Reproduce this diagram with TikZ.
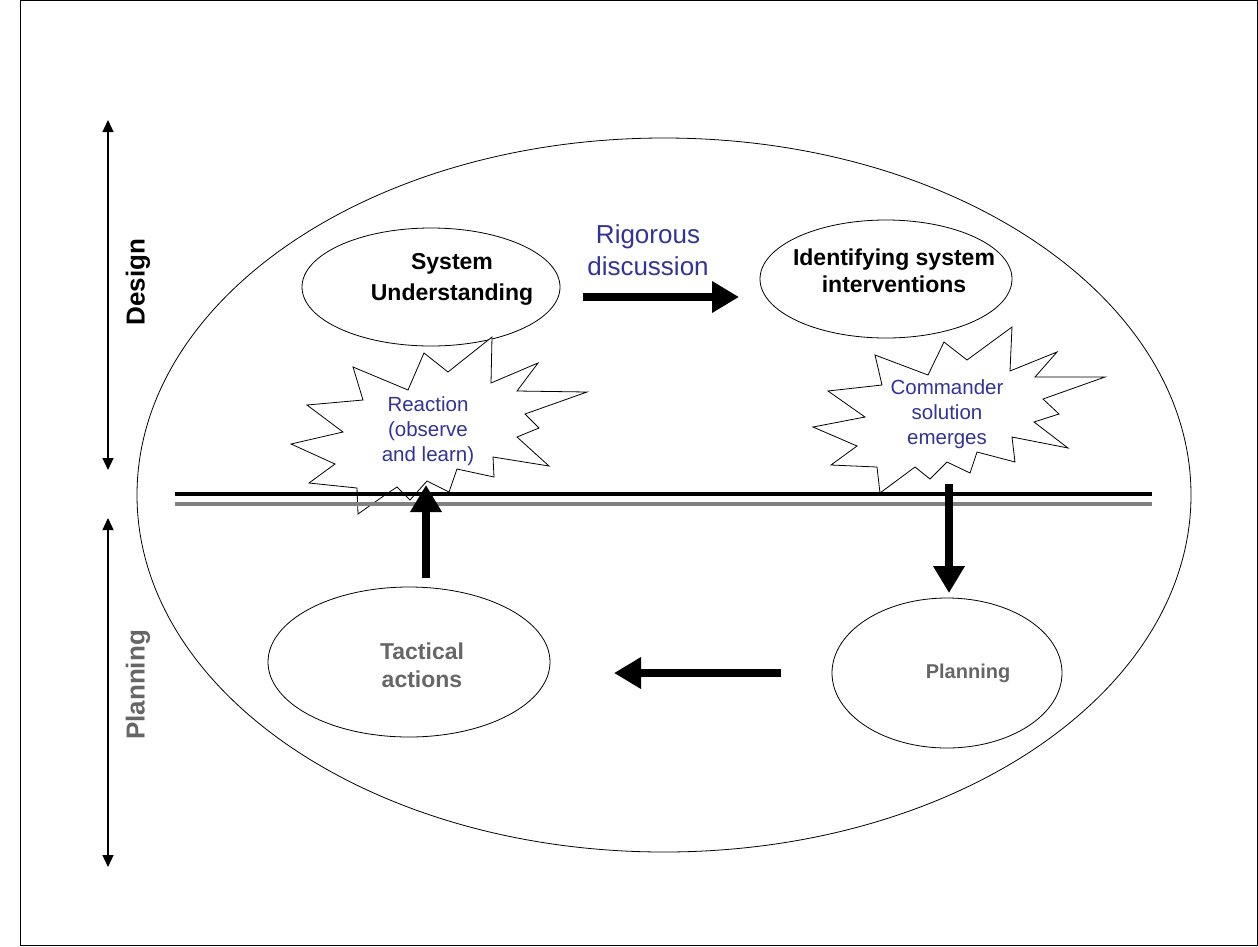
\documentclass[tikz,border=0pt]{standalone}
\usepackage{fontspec}
\setmainfont{Liberation Sans}
\usetikzlibrary{shapes.geometric,arrows.meta}

\definecolor{noteblue}{RGB}{51,51,153}
\definecolor{plangray}{RGB}{102,102,102}
\definecolor{rulegray}{RGB}{128,128,128}

\begin{document}
\begin{tikzpicture}[x=1pt,y=-1pt,
  bubble/.style={draw,ellipse,line width=0.8pt,inner sep=0pt},
  boldtext/.style={font=\bfseries\fontsize{23}{29}\selectfont,align=center,inner sep=0pt},
  notetext/.style={font=\fontsize{20.5}{25}\selectfont,text=noteblue,align=center,inner sep=0pt},
  sidetext/.style={font=\bfseries\fontsize{26}{30}\selectfont,rotate=90,inner sep=0pt},
  burst/.style={draw,fill=white,line width=0.8pt,line join=miter},
  bigarrow/.style={line width=8pt,-{Triangle[length=27pt,width=30pt]}},
  spanarrow/.style={line width=1.2pt,{Triangle[length=12pt,width=11pt]}-{Triangle[length=12pt,width=11pt]}},
]
% page frame
\useasboundingbox (0,0) rectangle (1258,946);
\draw[line width=0.8pt] (20,0.5) rectangle (1257.5,945.5);

% outer scope ellipse
\node[bubble,minimum width=1054pt,minimum height=714pt] (scope) at (664,495) {};

% process ellipses
\node[bubble,minimum width=258pt,minimum height=118pt] (su) at (431,287) {};
\node[bubble,minimum width=252pt,minimum height=118pt] (isi) at (886,279) {};
\node[bubble,minimum width=282pt,minimum height=150pt] (ta) at (409,662) {};
\node[bubble,minimum width=230pt,minimum height=150pt] (pl) at (947,673) {};

\node[boldtext,font=\bfseries\fontsize{23}{31}\selectfont] (su-text) at (452,279) {System\\Understanding};
\node[boldtext,font=\bfseries\fontsize{23}{27}\selectfont] (isi-text) at (894,271) {Identifying system\\interventions};
\node[boldtext,text=plangray,font=\bfseries\fontsize{23}{28}\selectfont] (ta-text) at (422,665) {Tactical\\actions};
\node[boldtext,text=plangray,font=\bfseries\fontsize{20}{24}\selectfont] (pl-text) at (968,673) {Planning};

% bursts
\draw[burst] (492,337) -- (491,383) -- (538,363) -- (517,391) -- (587,392) -- (525,414)
  -- (539,428) -- (517,437) -- (549,466) -- (493,457) -- (494,477) -- (457,469)
  -- (449,492) -- (427,481) -- (410,500) -- (397,487) -- (385,495) -- (358,514)
  -- (357,488) -- (309,483) -- (335,464) -- (291,444) -- (343,432) -- (307,405)
  -- (363,400) -- (353,367) -- (408,390) -- (424,353) -- (448,372) -- cycle;
\draw[burst] (1012,327) -- (1010,371) -- (1057,352) -- (1035,377) -- (1105,377)
  -- (1043,399) -- (1059,414) -- (1034,422) -- (1068,448) -- (1012,437) -- (1015,462)
  -- (977,452) -- (970,473) -- (947,462) -- (930,479) -- (915,467) -- (880,493)
  -- (877,467) -- (831,465) -- (857,446) -- (813,427) -- (865,417) -- (828,391)
  -- (882,385) -- (875,355) -- (928,375) -- (944,342) -- (967,360) -- cycle;

\node[notetext] (reaction) at (428,431) {Reaction\\(observe\\and learn)};
\node[notetext] (commander) at (947,414) {Commander\\solution\\emerges};

% design / planning boundary
\coordinate (bl1) at (175,494);
\coordinate (br1) at (1152,494);
\coordinate (bl2) at (175,504);
\coordinate (br2) at (1152,504);
\draw[line width=4.5pt] (bl1) -- (br1);
\draw[line width=3.5pt,rulegray] (bl2) -- (br2);

% flow arrows
\coordinate (rd-start) at (583,297);
\coordinate (rd-end) at (739,297);
\draw[bigarrow] (rd-start) -- (rd-end);
\node[font=\fontsize{26}{32}\selectfont,text=noteblue,align=center,inner sep=0pt] (rd-label) at (648,250) {Rigorous\\discussion};

\coordinate (down-start) at (949,484);
\coordinate (down-end) at (949,593);
\draw[bigarrow] (down-start) -- (down-end);

\coordinate (left-start) at (781,673);
\coordinate (left-end) at (614,673);
\draw[bigarrow] (left-start) -- (left-end);

\coordinate (up-start) at (426,578);
\coordinate (up-end) at (426,485);
\draw[bigarrow] (up-start) -- (up-end);

% phase spans
\coordinate (design-top) at (108,120);
\coordinate (design-bot) at (108,470);
\draw[spanarrow] (design-top) -- (design-bot);
\node[sidetext] (design) at (138,282) {Design};

\coordinate (plan-top) at (108,518);
\coordinate (plan-bot) at (108,867);
\draw[spanarrow] (plan-top) -- (plan-bot);
\node[sidetext,text=plangray] (planning) at (138,685) {Planning};
\end{tikzpicture}
\end{document}
